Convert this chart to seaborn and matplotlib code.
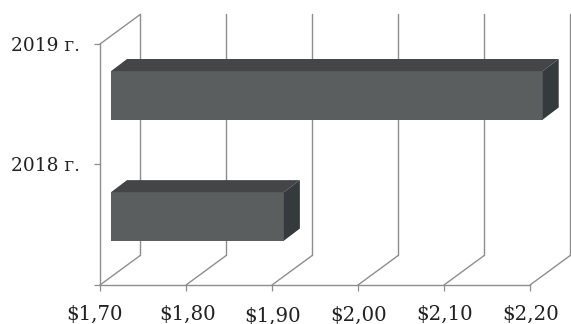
import matplotlib
matplotlib.use('Agg')
import matplotlib.pyplot as plt
import matplotlib.transforms as mtrans
import pandas as pd
import seaborn as sns
from matplotlib.patches import Polygon

years = ['2019 г.', '2018 г.']
prices = [2.202, 1.901]
x_ticks = [1.70, 1.80, 1.90, 2.00, 2.10, 2.20]
x_labels = ['$1,70', '$1,80', '$1,90', '$2,00', '$2,10', '$2,20']
y_ticks = [-0.49, 0.5, 1.5]
y_labels = ['2019 г.', '2018 г.', '']

FRONT = '#5a5e5e'
TOP = '#444546'
SIDE = '#353a3c'
GRID = '#8e8e8e'
INK = '#222222'

# fake 3d depth, in data units
WALL_DX, WALL_DY = 0.047, 0.245
BAR_SHIFT_X, BAR_SHIFT_Y = 0.0128, 0.066
BAR_DX, BAR_DY = 0.0186, 0.10

sns.set_theme(style='white')
plt.rcParams['font.family'] = ['DejaVu Serif']
plt.rcParams['text.color'] = INK

fig = plt.figure(figsize=(5.71, 3.24), dpi=100)
ax = fig.add_axes([100 / 571, 1 - 285 / 324, 430 / 571, 241 / 324])

df = pd.DataFrame({'year': years, 'price': prices})
sns.barplot(data=df, x='price', y='year', order=years, orient='h',
            color=FRONT, saturation=1, width=0.4, linewidth=0, ax=ax, zorder=3)

ax.set_xlim(x_ticks[0], x_ticks[-1])
ax.set_ylim(y_ticks[-1], y_ticks[0])
ax.set_xlabel('')
ax.set_ylabel('')
ax.set_xticks(x_ticks)
ax.set_xticklabels(x_labels, fontsize=14.2, color=INK)
ax.set_yticks(y_ticks)
ax.set_yticklabels(y_labels, fontsize=13.4, color=INK)
ax.tick_params(axis='x', length=4, width=0.9, color=GRID, pad=10, bottom=True)
ax.tick_params(axis='y', length=4, width=0.9, color=GRID, pad=10.4, left=True)

sns.despine(ax=ax)
for side in ['left', 'bottom']:
    ax.spines[side].set_color(GRID)
    ax.spines[side].set_linewidth(1.0)

# back wall lines and floor diagonals
y_front = y_ticks[-1]
y_top = y_ticks[0]
for v in x_ticks:
    ax.plot([v, v + WALL_DX], [y_front, y_front - WALL_DY], color=GRID, lw=1.0,
            clip_on=False, zorder=1)
    ax.plot([v + WALL_DX, v + WALL_DX], [y_front - WALL_DY, y_top - WALL_DY],
            color=GRID, lw=1.0, clip_on=False, zorder=1)
ax.plot([x_ticks[0], x_ticks[0] + WALL_DX], [y_top, y_top - WALL_DY], color=GRID,
        lw=1.0, clip_on=False, zorder=1)

# move the seaborn bars off the front wall, add top and side faces
for bar, v in zip(ax.patches, prices):
    x0 = x_ticks[0] + BAR_SHIFT_X
    x1 = v + BAR_SHIFT_X
    bar.set_x(x0)
    bar.set_width(v - x_ticks[0])
    bar.set_y(bar.get_y() - BAR_SHIFT_Y)
    bar.set_clip_on(False)
    y0 = bar.get_y()
    y1 = y0 + bar.get_height()
    ax.add_patch(Polygon([[x0, y0], [x1, y0], [x1 + BAR_DX, y0 - BAR_DY], [x0 + BAR_DX, y0 - BAR_DY]],
                         facecolor=TOP, edgecolor='none', clip_on=False, zorder=3))
    ax.add_patch(Polygon([[x1, y0], [x1 + BAR_DX, y0 - BAR_DY], [x1 + BAR_DX, y1 - BAR_DY], [x1, y1]],
                         facecolor=SIDE, edgecolor='none', clip_on=False, zorder=3))

# labels in the source are not quite on their ticks
x_nudge = [(-5, 0), (2, 0), (1, -2), (1, -1), (1, 0), (1, 0)]
for lab, (dx, dy) in zip(ax.get_xticklabels(), x_nudge):
    lab.set_transform(lab.get_transform() + mtrans.ScaledTranslation(dx / 100, dy / 100, fig.dpi_scale_trans))

fig.savefig('out.png', dpi=100)
